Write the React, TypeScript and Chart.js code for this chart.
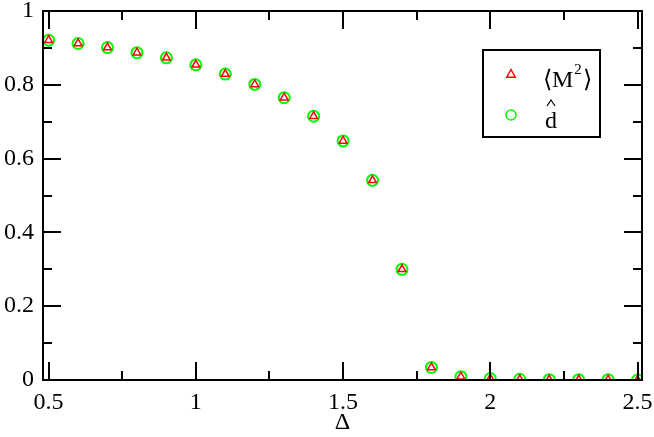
import React, { useEffect, useRef } from "react";
import { Chart, registerables } from "chart.js";

Chart.register(...registerables);

const deltas = [0.5, 0.6, 0.7, 0.8, 0.9, 1.0, 1.1, 1.2, 1.3, 1.4, 1.5, 1.6, 1.7, 1.8, 1.9, 2.0, 2.1, 2.2, 2.3, 2.4, 2.5];
const m2Values = [0.921, 0.912, 0.901, 0.887, 0.873, 0.854, 0.829, 0.801, 0.765, 0.715, 0.648, 0.541, 0.300, 0.034, 0.009, 0.004, 0.002, 0.001, 0.001, 0.001, 0.0];
const dHatValues = [0.921, 0.912, 0.901, 0.887, 0.873, 0.854, 0.829, 0.801, 0.765, 0.715, 0.648, 0.541, 0.300, 0.034, 0.009, 0.004, 0.002, 0.001, 0.001, 0.001, 0.0];
const xTicks = [0.5, 1, 1.5, 2, 2.5];
const xMinorTicks = [0.75, 1.25, 1.75, 2.25];
const yTicks = [0, 0.2, 0.4, 0.6, 0.8, 1];
const yMinorTicks = [0.1, 0.3, 0.5, 0.7, 0.9];
const xTitle = "Δ";
const legendM2 = { pre: "⟨M", sup: "2", post: "⟩" };
const legendD = "d";

const FONT = "'Liberation Serif', 'Times New Roman', serif";

const framePlugin = {
  id: "frameTicks",
  afterDraw(chart: any) {
    const { ctx, chartArea: a, scales } = chart;
    const xs = scales.x;
    const ys = scales.y;
    ctx.save();
    ctx.strokeStyle = "#000";
    ctx.lineWidth = 2;
    ctx.strokeRect(a.left, a.top, a.right - a.left, a.bottom - a.top);
    const major = 18;
    const minor = 9;
    ctx.beginPath();
    const vx = (v: number, len: number) => {
      const px = Math.round(xs.getPixelForValue(v));
      ctx.moveTo(px, a.bottom);
      ctx.lineTo(px, a.bottom - len);
      ctx.moveTo(px, a.top);
      ctx.lineTo(px, a.top + len);
    };
    const vy = (v: number, len: number) => {
      const py = Math.round(ys.getPixelForValue(v));
      ctx.moveTo(a.left, py);
      ctx.lineTo(a.left + len, py);
      ctx.moveTo(a.right, py);
      ctx.lineTo(a.right - len, py);
    };
    xTicks.forEach((v) => vx(v, major));
    xMinorTicks.forEach((v) => vx(v, minor));
    yTicks.forEach((v) => vy(v, major));
    yMinorTicks.forEach((v) => vy(v, minor));
    ctx.stroke();

    // legend
    const bx = 483, by = 50, bw = 117, bh = 87;
    ctx.lineWidth = 2;
    ctx.strokeRect(bx, by, bw, bh);
    const tx = 511, ty = 74, r = 4.5;
    ctx.strokeStyle = "#ff0000";
    ctx.lineWidth = 1.5;
    ctx.beginPath();
    ctx.moveTo(tx, ty - r);
    ctx.lineTo(tx + r * 0.95, ty + r * 0.7);
    ctx.lineTo(tx - r * 0.95, ty + r * 0.7);
    ctx.closePath();
    ctx.stroke();
    ctx.strokeStyle = "#00ff00";
    ctx.beginPath();
    ctx.arc(511, 115, 5, 0, Math.PI * 2);
    ctx.stroke();
    ctx.fillStyle = "#000";
    ctx.textBaseline = "alphabetic";
    ctx.textAlign = "left";
    ctx.font = `24px ${FONT}`;
    let x = 543;
    const base1 = 87;
    ctx.fillText(legendM2.pre, x, base1);
    x += ctx.measureText(legendM2.pre).width;
    ctx.font = `15px ${FONT}`;
    ctx.fillText(legendM2.sup, x + 1, base1 - 13);
    const sw = ctx.measureText(legendM2.sup).width;
    ctx.font = `24px ${FONT}`;
    ctx.fillText(legendM2.post, x + sw + 2, base1);
    const dx = 545, base2 = 128;
    ctx.fillText(legendD, dx, base2);
    const dw = ctx.measureText(legendD).width;
    ctx.lineWidth = 1.2;
    ctx.strokeStyle = "#000";
    ctx.beginPath();
    ctx.moveTo(dx + dw / 2 - 4, 106);
    ctx.lineTo(dx + dw / 2, 100);
    ctx.lineTo(dx + dw / 2 + 4, 106);
    ctx.stroke();
    ctx.restore();
  },
};

export default function App() {
  const ref = useRef<HTMLCanvasElement | null>(null);
  useEffect(() => {
    if (!ref.current) return;
    const chart = new Chart(ref.current, {
      type: "scatter",
      data: {
        datasets: [
          {
            label: "M2",
            data: deltas.map((d, i) => ({ x: d, y: m2Values[i] })),
            pointStyle: "triangle",
            pointRadius: 4.5,
            borderColor: "#ff0000",
            backgroundColor: "rgba(0,0,0,0)",
            borderWidth: 1.5,
            showLine: false,
          },
          {
            label: "dhat",
            data: deltas.map((d, i) => ({ x: d, y: dHatValues[i] })),
            pointStyle: "circle",
            pointRadius: 5.5,
            borderColor: "#00ff00",
            backgroundColor: "rgba(0,0,0,0)",
            borderWidth: 2,
            showLine: false,
          },
        ],
      },
      options: {
        animation: false,
        responsive: false,
        devicePixelRatio: 1,
        layout: { padding: { top: 11, right: 12, left: 0, bottom: 0 } },
        plugins: { legend: { display: false }, tooltip: { enabled: false } },
        scales: {
          x: {
            type: "linear",
            min: 0.481,
            max: 2.515,
            grid: { display: false, drawTicks: false },
            border: { display: false },
            afterBuildTicks: (s: any) => {
              s.ticks = xTicks.map((v) => ({ value: v }));
            },
            afterFit: (s: any) => {
              s.height = 57;
              s.paddingLeft = 0;
              s.paddingRight = 0;
            },
            ticks: {
              color: "#000",
              font: { family: FONT, size: 24 },
              padding: 8,
              maxRotation: 0,
              autoSkip: false,
              callback: (v: any) => String(v),
            },
            title: {
              display: true,
              text: xTitle,
              color: "#000",
              font: { family: FONT, size: 24 },
              padding: { top: 0, bottom: 0 },
            },
          },
          y: {
            type: "linear",
            min: 0,
            max: 1,
            grid: { display: false, drawTicks: false },
            border: { display: false },
            afterBuildTicks: (s: any) => {
              s.ticks = yTicks.map((v) => ({ value: v }));
            },
            afterFit: (s: any) => {
              s.width = 43;
              s.paddingTop = 0;
              s.paddingBottom = 0;
            },
            ticks: {
              color: "#000",
              font: { family: FONT, size: 24 },
              padding: 9,
              autoSkip: false,
              callback: (v: any) => String(v),
            },
          },
        },
      },
      plugins: [framePlugin],
    });
    return () => chart.destroy();
  }, []);
  return (
    <div style={{ position: "fixed", left: 0, top: 0, width: 654, height: 437, background: "#fff" }}>
      <canvas ref={ref} width={654} height={437} style={{ display: "block" }} />
    </div>
  );
}
